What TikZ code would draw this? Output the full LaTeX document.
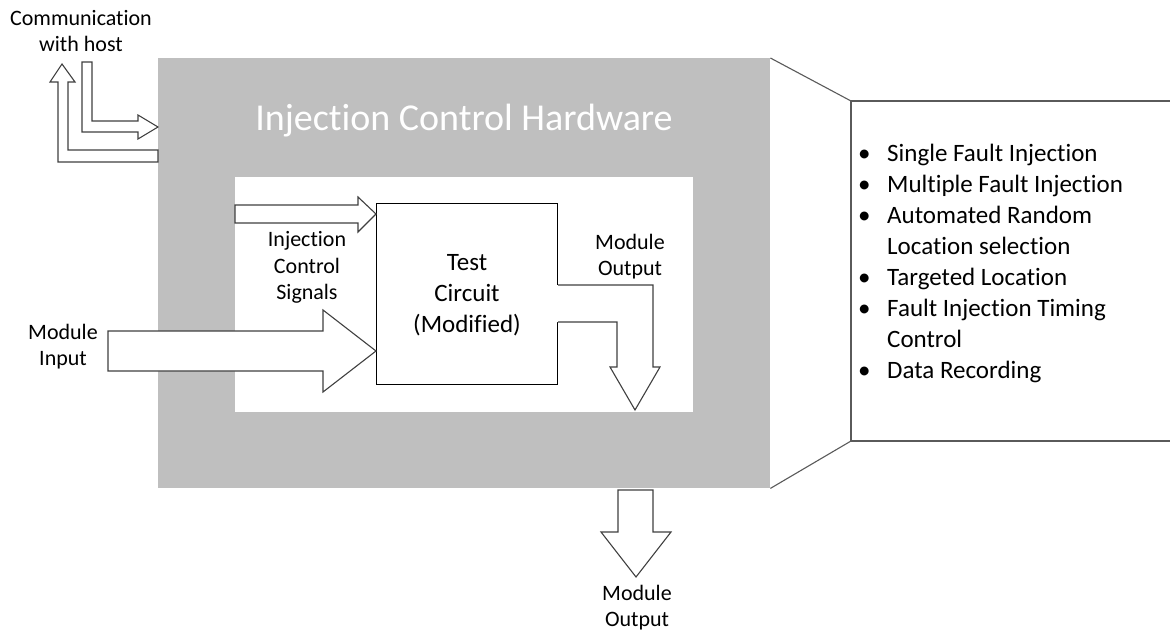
\documentclass[tikz,border=0pt]{standalone}
\usepackage{fontspec}
\setmainfont{Carlito}[Ligatures={NoCommon},RawFeature=-clig,RawFeature=-calt]
\definecolor{boxgrey}{HTML}{BFBFBF}
\definecolor{edgegrey}{HTML}{404040}
\definecolor{panelgrey}{HTML}{5A5A5A}
\begin{document}
\begin{tikzpicture}[x=1pt,y=-1pt,
  fat/.style={draw=edgegrey,fill=white,line width=1.1pt,line join=miter},
  lbl/.style={align=center,inner sep=0pt,text=black,font=\fontsize{22}{26.5}\selectfont},
  big/.style={align=center,inner sep=0pt,text=black,font=\fontsize{25}{30.9}\selectfont},
  area/.style={inner sep=0pt,anchor=north west,draw=none}]
\useasboundingbox (0,0) rectangle (1170,631);
\fill[white] (0,0) rectangle (1170,631);
% outer hardware box
\node[area,fill=boxgrey,minimum width=612pt,minimum height=430pt] (hw) at (158,58) {};
\node[inner sep=0pt,text=white,font=\fontsize{38}{44}\selectfont] (title) at (464,121) {Injection Control Hardware};
% inner white area
\node[area,fill=white,minimum width=458pt,minimum height=235pt] (inner) at (235,177) {};
% test circuit
\node[area,fill=white,draw=black,line width=1.1pt,minimum width=181pt,minimum height=181pt] (tc) at (376,203) {};
\node[big] (tctext) at (467,295) {Test\\Circuit\\(Modified)};
% right panel
\draw[panelgrey,line width=1.1pt] (1175,101) coordinate (pTR) -- (851,101) coordinate (pTL) -- (851,441) coordinate (pBL) -- (1175,441) coordinate (pBR);
\draw[panelgrey,line width=1.1pt] (hw.north east) -- (pTL);
\draw[panelgrey,line width=1.1pt] (hw.south east) -- (pBL);
\node[big,align=left,anchor=west] (list) at (858,263.5) {%
\makebox[29pt][l]{•}Single Fault Injection\\
\makebox[29pt][l]{•}Multiple Fault Injection\\
\makebox[29pt][l]{•}Automated Random\\
\hspace*{29pt}Location selection\\
\makebox[29pt][l]{•}Targeted Location\\
\makebox[29pt][l]{•}Fault Injection Timing\\
\hspace*{29pt}Control\\
\makebox[29pt][l]{•}Data Recording};
% communication arrows
\draw[fat] (82,62) -- (92,62) -- (92,121) -- (138,121) -- (138,115) -- (158,127) -- (138,139) -- (138,132) -- (82,132) -- cycle;
\draw[fat] (158,150) -- (68,150) -- (68,82) -- (75,82) -- (62,64) -- (50,82) -- (58,82) -- (58,162) -- (158,162) -- cycle;
\node[lbl] (comm) at (81,31) {Communication\\with host};
% injection control signals arrow
\draw[fat] (235,205) -- (358,205) -- (358,197) -- (tc.north west |- 0,214) -- (358,232) -- (358,223) -- (235,223) -- cycle;
\node[lbl] (ics) at (307,267.5) {Injection\\Control\\Signals};
% module input arrow
\draw[fat] (108,331) -- (323,331) -- (323,310) -- (tc.west |- 0,351) -- (323,392) -- (323,371) -- (108,371) -- cycle;
\node[lbl] (modin) at (63,346.5) {Module\\Input};
% module output (inner)
\fill[white] (557,285) -- (653,285) -- (653,367) -- (660,367) -- (635,410) -- (610,367) -- (617,367) -- (617,322) -- (557,322) -- cycle;
\draw[edgegrey,line width=1.1pt,line join=miter] (tc.east |- 0,285) -- (653,285) -- (653,367) -- (660,367) -- (635,410) -- (610,367) -- (617,367) -- (617,322) -- (tc.east |- 0,322);
\node[lbl] (modout1) at (630,256.5) {Module\\Output};
% module output (bottom)
\draw[fat] (618,490) -- (653,490) -- (653,532) -- (671,532) -- (636,577) -- (601,532) -- (618,532) -- cycle;
\node[lbl] (modout2) at (637,607.5) {Module\\Output};
\end{tikzpicture}
\end{document}
